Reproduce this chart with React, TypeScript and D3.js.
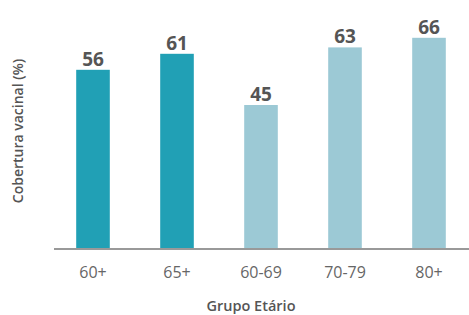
import { useRef, useEffect } from 'react';
import * as d3 from 'd3';

const groups = ['60+', '65+', '60-69', '70-79', '80+'];
const coverage = [56, 61, 45, 63, 66];
const barColors = ['#21a0b5', '#21a0b5', '#9cc9d5', '#9cc9d5', '#9cc9d5'];

export default function App() {
  const svgRef = useRef<SVGSVGElement>(null);

  useEffect(() => {
    if (!svgRef.current) return;
    const svg = d3.select(svgRef.current);
    svg.selectAll('*').remove();

    const font = "'Open Sans', sans-serif";
    const x = d3.scaleBand().domain(groups).range([51, 471]).paddingInner(0.6).paddingOuter(0.3);
    const y = d3.scaleLinear().domain([0, 70]).range([249, 25]);

    svg.selectAll('.bar').data(groups).join('rect')
      .attr('class', 'bar')
      .attr('x', (d) => x(d) ?? 0)
      .attr('y', (_, i) => y(coverage[i]))
      .attr('width', x.bandwidth())
      .attr('height', (_, i) => y(0) - y(coverage[i]))
      .attr('fill', (_, i) => barColors[i]);

    svg.selectAll('.lbl').data(groups).join('text')
      .attr('class', 'lbl')
      .attr('x', (d) => (x(d) ?? 0) + x.bandwidth() / 2)
      .attr('y', (_, i) => y(coverage[i]) - 4)
      .attr('text-anchor', 'middle')
      .attr('font-family', font).attr('font-weight', 700).attr('font-size', 19)
      .attr('fill', '#555')
      .text((_, i) => coverage[i]);

    const axis = svg.append('g').attr('transform', `translate(0,${y(0)})`)
      .call(d3.axisBottom(x).tickSize(0).tickPadding(18));
    axis.select('.domain').attr('stroke', '#999').attr('stroke-width', 2).attr('d', 'M54,0H469');
    axis.selectAll('text').attr('font-family', font).attr('font-size', 16).attr('fill', '#666');

    svg.append('text').attr('x', 251).attr('y', 311)
      .attr('text-anchor', 'middle')
      .attr('font-family', font).attr('font-weight', 600).attr('font-size', 14.5)
      .attr('fill', '#555').text('Grupo Etário');

    svg.append('text').attr('transform', 'rotate(-90)')
      .attr('x', -131).attr('y', 23)
      .attr('text-anchor', 'middle')
      .attr('font-family', font).attr('font-weight', 600).attr('font-size', 14)
      .attr('fill', '#555').text('Cobertura vacinal (%)');
  }, []);

  return (
    <svg ref={svgRef} width={469} height={315}
      style={{ position: 'absolute', left: 0, top: 0, background: '#fff' }} />
  );
}
